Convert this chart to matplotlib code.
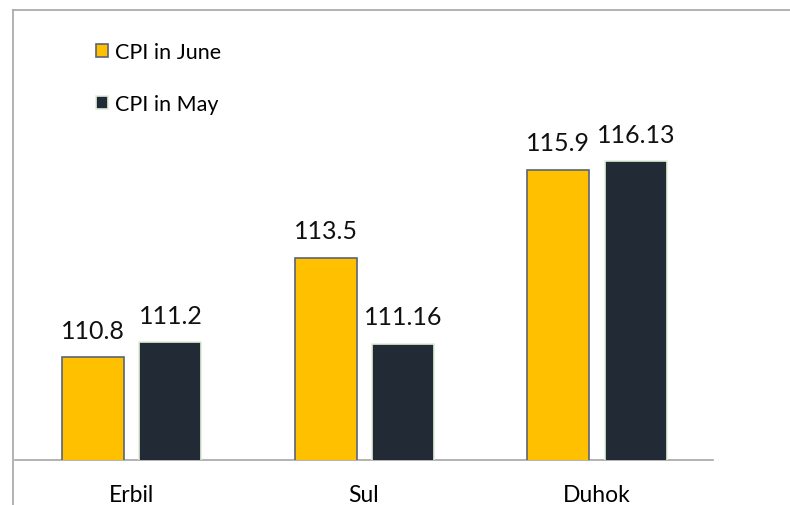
import matplotlib
matplotlib.use("Agg")
import matplotlib.pyplot as plt
import numpy as np
from matplotlib.lines import Line2D
from matplotlib.patches import Patch

regions = ["Erbil", "Sul", "Duhok"]
cpi_june = [110.8, 113.5, 115.9]
cpi_may = [111.2, 111.16, 116.13]
june_labels = ["110.8", "113.5", "115.9"]
may_labels = ["111.2", "111.16", "116.13"]

plt.rcParams['font.family'] = ['Lato', 'DejaVu Sans']

fig = plt.figure(figsize=(7.9, 5.06), dpi=100)
ax = fig.add_axes([15 / 790, 45 / 506, 698 / 790, 441 / 506])

x = np.arange(len(regions))
w = 0.266
ax.bar(x - 0.165, cpi_june, w, color="#FFC000", edgecolor="#5A6478", linewidth=1.2, zorder=3)
ax.bar(x + 0.168, cpi_may, w, color="#222A35", edgecolor="#E2EFD9", linewidth=1.2, zorder=3)

for xi, v, s in zip(x, cpi_june, june_labels):
    ax.text(xi - 0.165, v + 0.42, s, ha="center", va="bottom", fontsize=18, color="#111111")
for xi, v, s in zip(x, cpi_may, may_labels):
    ax.text(xi + 0.168, v + 0.42, s, ha="center", va="bottom", fontsize=18, color="#111111")

ax.set_xlim(-0.5, 2.5)
ax.set_ylim(108, 120)
ax.set_xticks(x)
ax.set_xticklabels(regions, fontsize=16.5)
ax.tick_params(axis="x", length=0, pad=17)
ax.set_yticks([])
for side in ["top", "right", "left"]:
    ax.spines[side].set_visible(False)
ax.spines["bottom"].set_color("#A6A6A6")
ax.spines["bottom"].set_linewidth(1.2)

handles = [Patch(facecolor="#FFC000", edgecolor="#5A6478", linewidth=1.2),
           Patch(facecolor="#222A35", edgecolor="#E2EFD9", linewidth=1.2)]
fig.legend(handles, ["CPI in June", "CPI in May"], loc="upper left",
           bbox_to_anchor=(96 / 790, 1 - 43 / 506), frameon=False, fontsize=15.5,
           borderpad=0, borderaxespad=0,
           handlelength=0.56, handleheight=0.56, handletextpad=0.33, labelspacing=1.5)

# outer chart border, partly cropped
fig.add_artist(Line2D([13 / 790, 13 / 790], [0, 1 - 11 / 506], color="#A6A6A6", lw=1.2))
fig.add_artist(Line2D([13 / 790, 1], [1 - 11 / 506, 1 - 11 / 506], color="#A6A6A6", lw=1.2))

fig.savefig("out.png", dpi=100)
